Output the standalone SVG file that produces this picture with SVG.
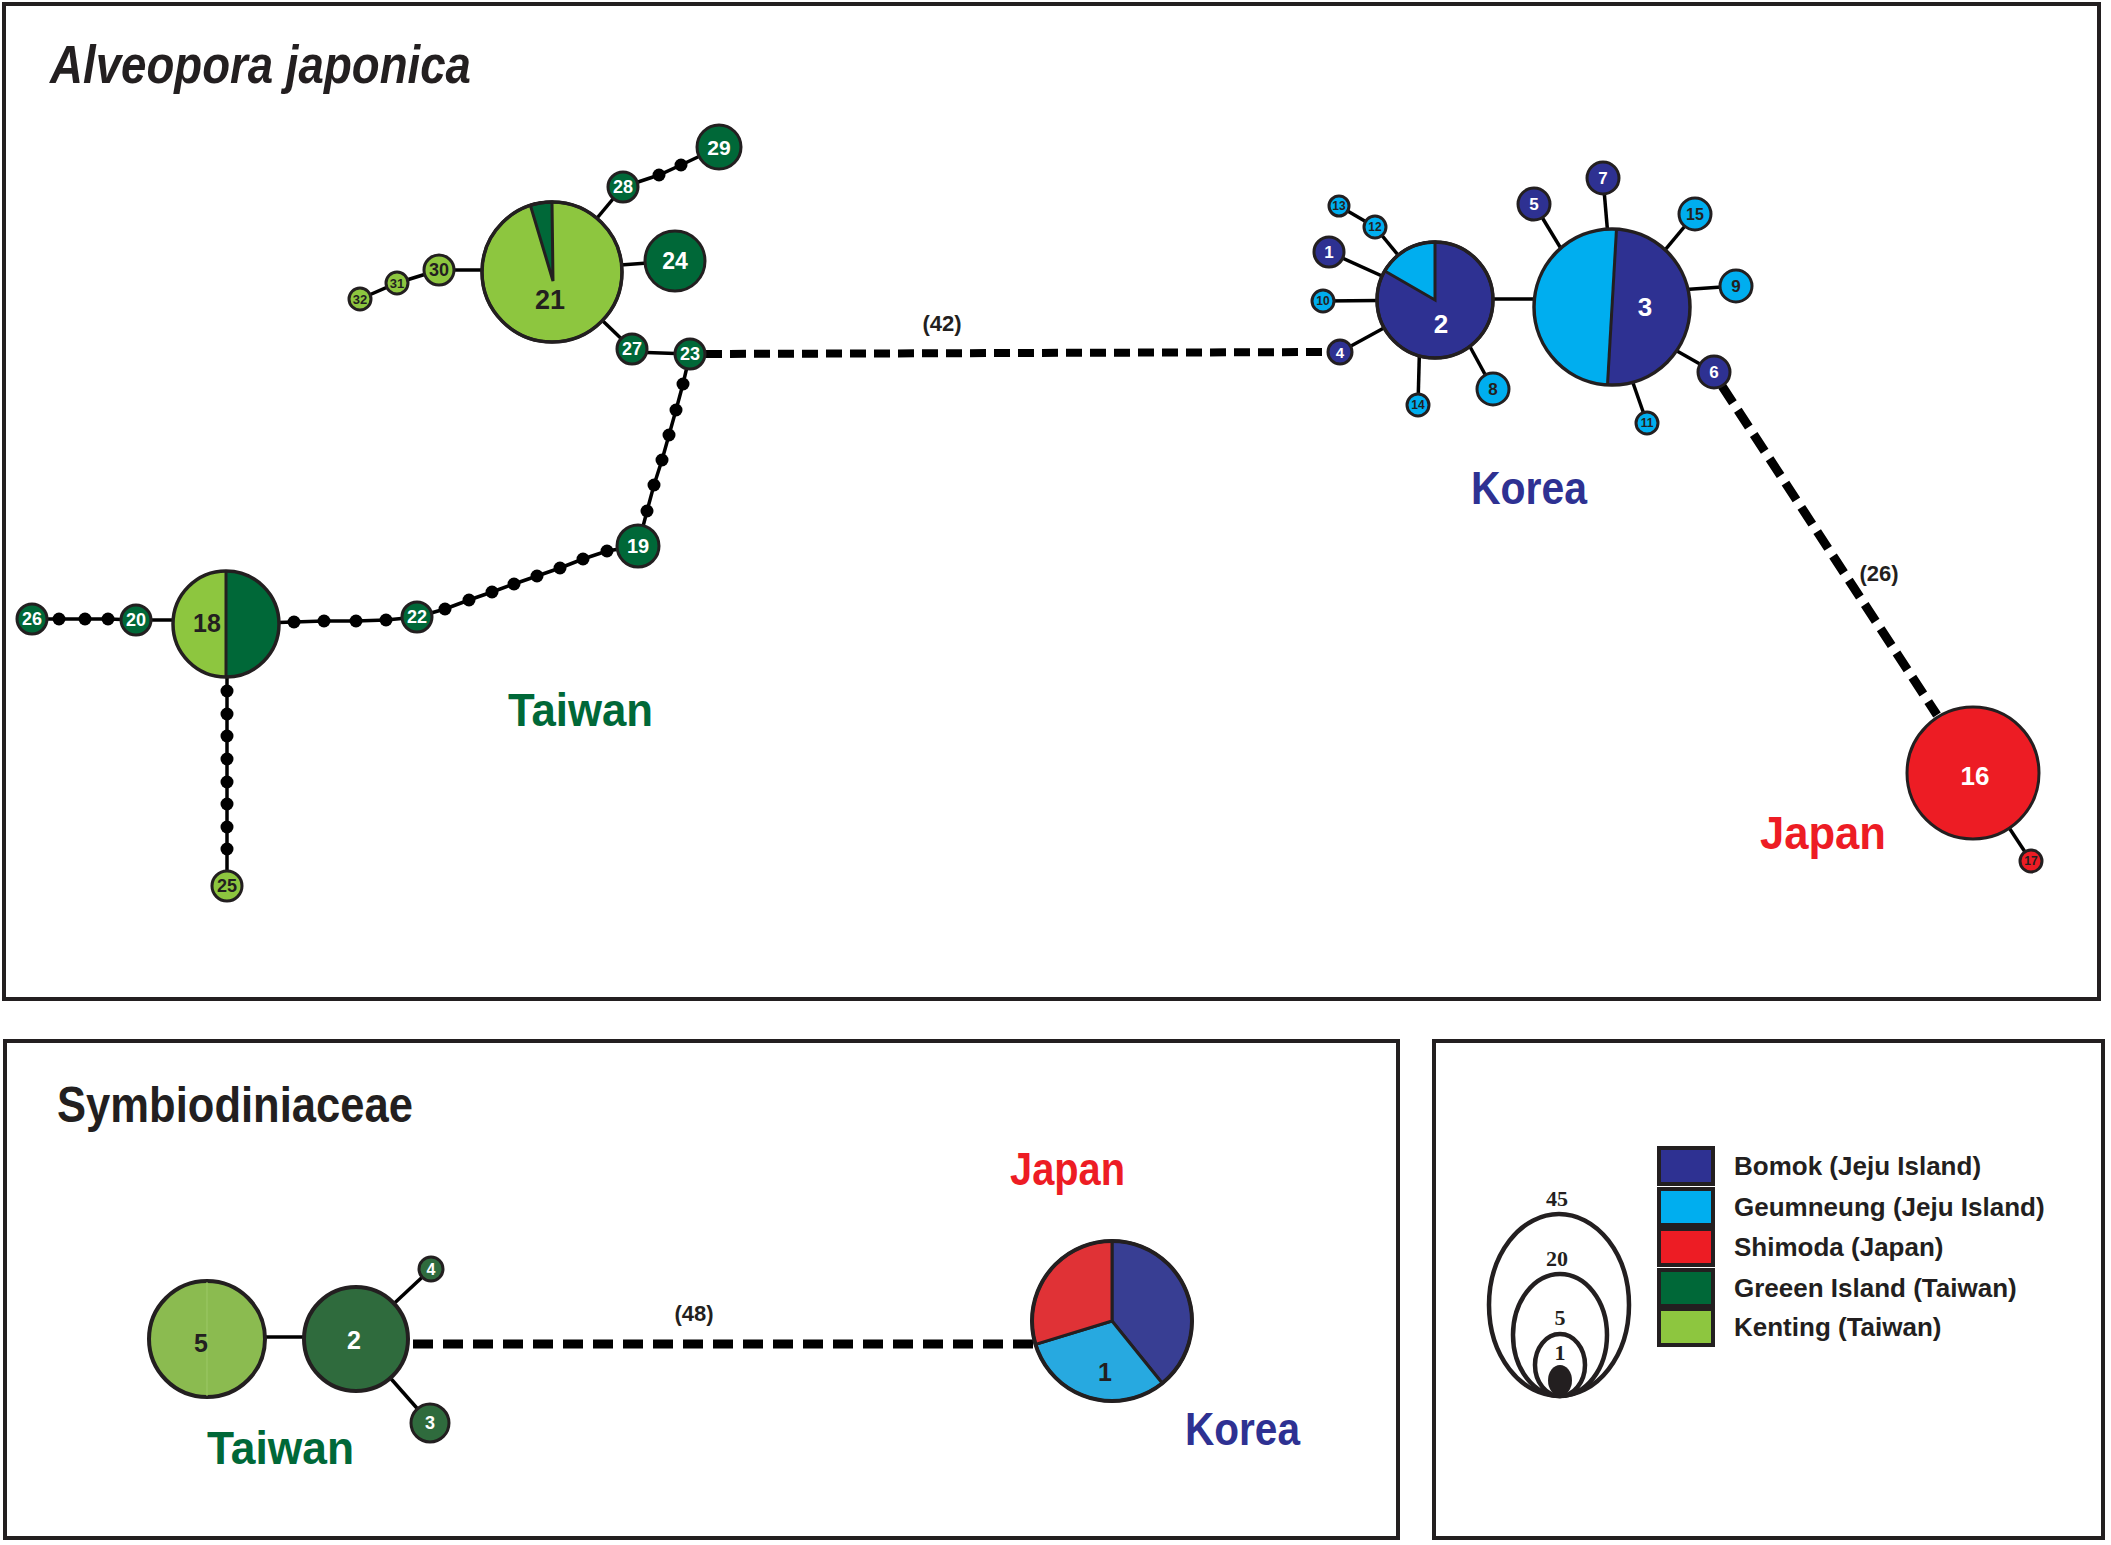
<svg xmlns="http://www.w3.org/2000/svg" width="2111" height="1545" viewBox="0 0 2111 1545">
<defs>
<style>
.frame{fill:none;stroke:#231f20;stroke-width:4}
.ln{fill:none;stroke:#000;stroke-width:3.5}
.dash42{fill:none;stroke:#000;stroke-width:8;stroke-dasharray:16 8}
.dash26{fill:none;stroke:#000;stroke-width:9;stroke-dasharray:20 9}
.dash48{fill:none;stroke:#000;stroke-width:9;stroke-dasharray:20 10}
.dot{fill:#000}
.nd{stroke:#231f20;stroke-width:3}
.ndo{fill:none;stroke:#231f20;stroke-width:3.5}
.B{fill:#2e3192}.G{fill:#00aeef}.S{fill:#ed1c24}.GI{fill:#006838}.K{fill:#8dc63f}
.t{font-family:"Liberation Sans",Arial,sans-serif;font-weight:bold;text-anchor:middle;dominant-baseline:central}
.w{fill:#fff}.d{fill:#231f20}
.title{font-family:"Liberation Sans",Arial,sans-serif;font-weight:bold;fill:#231f20}
.reg{font-family:"Liberation Sans",Arial,sans-serif;font-weight:bold;font-size:47px}
.lg{font-family:"Liberation Sans",Arial,sans-serif;font-weight:bold;font-size:26px;fill:#231f20}
.sz{font-family:"Liberation Serif","Times New Roman",serif;font-weight:bold;font-size:22px;fill:#231f20;text-anchor:middle}
.lc{fill:none;stroke:#231f20;stroke-width:4.5}
</style>
</defs>
<rect width="2111" height="1545" fill="#fff"/>

<!-- frames -->
<rect class="frame" x="4" y="4" width="2095" height="995"/>
<rect class="frame" x="5" y="1041" width="1393" height="497"/>
<rect class="frame" x="1434" y="1041" width="669" height="497"/>

<!-- titles -->
<text class="title" x="50" y="83" font-size="53" font-style="italic" textLength="421" lengthAdjust="spacingAndGlyphs">Alveopora japonica</text>
<text class="title" x="57" y="1122" font-size="50" textLength="356" lengthAdjust="spacingAndGlyphs">Symbiodiniaceae</text>

<!-- region labels -->
<text class="reg" x="508" y="726" fill="#006838" textLength="145" lengthAdjust="spacingAndGlyphs">Taiwan</text>
<text class="reg" x="1471" y="504" fill="#2e3192" textLength="116" lengthAdjust="spacingAndGlyphs">Korea</text>
<text class="reg" x="1760" y="849" fill="#ed1c24" textLength="126" lengthAdjust="spacingAndGlyphs">Japan</text>
<text class="reg" x="207" y="1464" fill="#006838" textLength="147" lengthAdjust="spacingAndGlyphs">Taiwan</text>
<text class="reg" x="1010" y="1185" fill="#ed1c24" textLength="115" lengthAdjust="spacingAndGlyphs">Japan</text>
<text class="reg" x="1185" y="1445" fill="#2e3192" textLength="115" lengthAdjust="spacingAndGlyphs">Korea</text>

<!-- connectors -->
<g id="connectors">
<line class="ln" x1="552" y1="270" x2="439" y2="270"/>
<polyline class="ln" points="439,270 397,283 360,299"/>
<line class="ln" x1="552" y1="272" x2="623" y2="187"/>
<polyline class="ln" points="623,187 659,175 681,165 719,147"/>
<line class="ln" x1="552" y1="270" x2="675" y2="261"/>
<line class="ln" x1="552" y1="272" x2="632" y2="349"/>
<line class="ln" x1="632" y1="352" x2="690" y2="354"/>
<polyline class="ln" points="690,354 683,384 676,410 669,435 662,460 654,485 647,511 638,546"/>
<polyline class="ln" points="638,546 607,551 583,559 560,568 537,576 514,584 492,592 469,600 445,609 417,617"/>
<polyline class="ln" points="417,617 386,620 356,621 324,621 294,622 226,624"/>
<line class="ln" x1="226" y1="620" x2="136" y2="620"/>
<polyline class="ln" points="136,620 108,619 85,619 59,619 32,619"/>
<line class="ln" x1="227" y1="624" x2="227" y2="886"/>
<line class="dash42" x1="706" y1="354" x2="1328" y2="352"/>
<line class="ln" x1="1339" y1="206" x2="1375" y2="227"/>
<line class="ln" x1="1375" y1="227" x2="1435" y2="300"/>
<line class="ln" x1="1329" y1="252" x2="1435" y2="300"/>
<line class="ln" x1="1323" y1="301" x2="1435" y2="300"/>
<line class="ln" x1="1340" y1="352" x2="1435" y2="300"/>
<line class="ln" x1="1418" y1="405" x2="1420" y2="330"/>
<line class="ln" x1="1493" y1="389" x2="1450" y2="310"/>
<line class="ln" x1="1435" y1="299" x2="1612" y2="299"/>
<line class="ln" x1="1534" y1="204" x2="1580" y2="280"/>
<line class="ln" x1="1603" y1="178" x2="1610" y2="260"/>
<line class="ln" x1="1695" y1="214" x2="1640" y2="280"/>
<line class="ln" x1="1736" y1="286" x2="1650" y2="292"/>
<line class="ln" x1="1714" y1="372" x2="1640" y2="330"/>
<line class="ln" x1="1647" y1="423" x2="1625" y2="360"/>
<line class="dash26" x1="1722" y1="386" x2="1937" y2="715"/>
<line class="ln" x1="1973" y1="773" x2="2031" y2="861"/>
<line class="ln" x1="207" y1="1337" x2="356" y2="1337"/>
<line class="ln" x1="356" y1="1339" x2="431" y2="1269"/>
<line class="ln" x1="356" y1="1339" x2="430" y2="1423"/>
<line class="dash48" x1="413" y1="1344" x2="1036" y2="1344"/>
</g>

<!-- mutation dots -->
<g id="dots">
<circle class="dot" cx="659" cy="175" r="6.5"/><circle class="dot" cx="681" cy="165" r="6.5"/>
<circle class="dot" cx="683" cy="384" r="6.5"/><circle class="dot" cx="676" cy="410" r="6.5"/><circle class="dot" cx="669" cy="435" r="6.5"/><circle class="dot" cx="662" cy="460" r="6.5"/><circle class="dot" cx="654" cy="485" r="6.5"/><circle class="dot" cx="647" cy="511" r="6.5"/>
<circle class="dot" cx="607" cy="551" r="6.5"/><circle class="dot" cx="583" cy="559" r="6.5"/><circle class="dot" cx="560" cy="568" r="6.5"/><circle class="dot" cx="537" cy="576" r="6.5"/><circle class="dot" cx="514" cy="584" r="6.5"/><circle class="dot" cx="492" cy="592" r="6.5"/><circle class="dot" cx="469" cy="600" r="6.5"/><circle class="dot" cx="445" cy="609" r="6.5"/>
<circle class="dot" cx="386" cy="620" r="6.5"/><circle class="dot" cx="356" cy="621" r="6.5"/><circle class="dot" cx="324" cy="621" r="6.5"/><circle class="dot" cx="294" cy="622" r="6.5"/>
<circle class="dot" cx="108" cy="619" r="6.5"/><circle class="dot" cx="85" cy="619" r="6.5"/><circle class="dot" cx="59" cy="619" r="6.5"/>
<circle class="dot" cx="227" cy="691" r="6.5"/><circle class="dot" cx="227" cy="714" r="6.5"/><circle class="dot" cx="227" cy="736" r="6.5"/><circle class="dot" cx="227" cy="759" r="6.5"/><circle class="dot" cx="227" cy="782" r="6.5"/><circle class="dot" cx="227" cy="804" r="6.5"/><circle class="dot" cx="227" cy="827" r="6.5"/><circle class="dot" cx="227" cy="849" r="6.5"/>
</g>

<!-- edge labels -->
<text class="t d" x="942" y="323" font-size="22">(42)</text>
<text class="t d" x="1879" y="573" font-size="22">(26)</text>
<text class="t d" x="694" y="1313" font-size="22">(48)</text>

<!-- Taiwan nodes (top) -->
<g id="n21"><circle class="nd K" cx="552" cy="272" r="70"/><path class="nd GI" d="M553,281 L552,202 A70,70 0 0,0 530.4,205.4 Z"/><circle class="ndo" cx="552" cy="272" r="70"/><text class="t d" x="550" y="300" font-size="27">21</text></g>
<g id="n24"><circle class="nd GI" cx="675" cy="261" r="30"/><text class="t w" x="675" y="261" font-size="23">24</text></g>
<g id="n28"><circle class="nd GI" cx="623" cy="187" r="15"/><text class="t w" x="623" y="187" font-size="18">28</text></g>
<g id="n29"><circle class="nd GI" cx="719" cy="147" r="22"/><text class="t w" x="719" y="147" font-size="21">29</text></g>
<g id="n30"><circle class="nd K" cx="439" cy="270" r="15"/><text class="t d" x="439" y="270" font-size="18">30</text></g>
<g id="n31"><circle class="nd K" cx="397" cy="283" r="11"/><text class="t d" x="397" y="283" font-size="13">31</text></g>
<g id="n32"><circle class="nd K" cx="360" cy="299" r="11"/><text class="t d" x="360" y="299" font-size="13">32</text></g>
<g id="n27"><circle class="nd GI" cx="632" cy="349" r="15"/><text class="t w" x="632" y="349" font-size="18">27</text></g>
<g id="n23"><circle class="nd GI" cx="690" cy="354" r="15"/><text class="t w" x="690" y="354" font-size="18">23</text></g>
<g id="n19"><circle class="nd GI" cx="638" cy="546" r="21"/><text class="t w" x="638" y="546" font-size="20">19</text></g>
<g id="n22"><circle class="nd GI" cx="417" cy="617" r="15"/><text class="t w" x="417" y="617" font-size="18">22</text></g>
<g id="n18"><path class="K" d="M226,571 A53,53 0 0,0 226,677 Z"/><path class="GI" d="M226,571 A53,53 0 0,1 226,677 Z"/><line x1="226" y1="571" x2="226" y2="677" stroke="#231f20" stroke-width="3"/><circle class="ndo" cx="226" cy="624" r="53"/><text class="t d" x="207" y="623" font-size="25">18</text></g>
<g id="n20"><circle class="nd GI" cx="136" cy="620" r="15"/><text class="t w" x="136" y="620" font-size="18">20</text></g>
<g id="n26"><circle class="nd GI" cx="32" cy="619" r="15"/><text class="t w" x="32" y="619" font-size="18">26</text></g>
<g id="n25"><circle class="nd K" cx="227" cy="886" r="15"/><text class="t d" x="227" y="886" font-size="18">25</text></g>

<!-- Korea nodes -->
<g id="n2"><circle class="nd B" cx="1435" cy="300" r="58"/><path class="nd G" d="M1435,300 L1435,242 A58,58 0 0,0 1384.8,271 Z"/><circle class="ndo" cx="1435" cy="300" r="58"/><text class="t w" x="1441" y="324" font-size="26">2</text></g>
<g id="n3"><circle class="B" cx="1612" cy="307" r="78"/><path class="G" d="M1616.5,229.1 A78,78 0 0,0 1534.1,302.5 A78,78 0 0,0 1607.5,384.9 Z"/><line x1="1616.5" y1="229.1" x2="1607.5" y2="384.9" stroke="#231f20" stroke-width="3"/><circle class="ndo" cx="1612" cy="307" r="78"/><text class="t w" x="1645" y="307" font-size="26">3</text></g>
<g id="n13"><circle class="nd G" cx="1339" cy="206" r="10"/><text class="t d" x="1339" y="206" font-size="12">13</text></g>
<g id="n12"><circle class="nd G" cx="1375" cy="227" r="11"/><text class="t d" x="1375" y="227" font-size="12">12</text></g>
<g id="n1"><circle class="nd B" cx="1329" cy="252" r="15"/><text class="t w" x="1329" y="252" font-size="17">1</text></g>
<g id="n10"><circle class="nd G" cx="1323" cy="301" r="11"/><text class="t d" x="1323" y="301" font-size="12">10</text></g>
<g id="n4"><circle class="nd B" cx="1340" cy="352" r="12"/><text class="t w" x="1340" y="352" font-size="15">4</text></g>
<g id="n14"><circle class="nd G" cx="1418" cy="405" r="11"/><text class="t d" x="1418" y="405" font-size="12">14</text></g>
<g id="n8"><circle class="nd G" cx="1493" cy="389" r="16"/><text class="t d" x="1493" y="389" font-size="17">8</text></g>
<g id="n5"><circle class="nd B" cx="1534" cy="204" r="16"/><text class="t w" x="1534" y="204" font-size="17">5</text></g>
<g id="n7"><circle class="nd B" cx="1603" cy="178" r="16"/><text class="t w" x="1603" y="178" font-size="17">7</text></g>
<g id="n15"><circle class="nd G" cx="1695" cy="214" r="16"/><text class="t d" x="1695" y="214" font-size="16">15</text></g>
<g id="n9"><circle class="nd G" cx="1736" cy="286" r="16"/><text class="t d" x="1736" y="286" font-size="17">9</text></g>
<g id="n6"><circle class="nd B" cx="1714" cy="372" r="16"/><text class="t w" x="1714" y="372" font-size="17">6</text></g>
<g id="n11"><circle class="nd G" cx="1647" cy="423" r="11"/><text class="t d" x="1647" y="423" font-size="12">11</text></g>

<!-- Japan nodes -->
<g id="n16"><circle class="nd S" cx="1973" cy="773" r="66"/><text class="t w" x="1975" y="776" font-size="26">16</text></g>
<g id="n17"><circle class="nd S" cx="2031" cy="861" r="11"/><text class="t d" x="2031" y="861" font-size="12">17</text></g>

<!-- Symbiodiniaceae nodes -->
<g id="s5"><circle cx="207" cy="1339" r="58" fill="#8bbb50" stroke="#231f20" stroke-width="4"/><line x1="207" y1="1282" x2="207" y2="1396" stroke="#9cc866" stroke-width="1"/><text class="t d" x="201" y="1343" font-size="25">5</text></g>
<g id="s2"><circle cx="356" cy="1339" r="52" fill="#2f6b3d" stroke="#231f20" stroke-width="4"/><text class="t w" x="354" y="1340" font-size="25">2</text></g>
<g id="s4"><circle cx="431" cy="1269" r="12" fill="#2f6b3d" stroke="#231f20" stroke-width="3"/><text class="t w" x="431" y="1269" font-size="16">4</text></g>
<g id="s3"><circle cx="430" cy="1423" r="19" fill="#2f6b3d" stroke="#231f20" stroke-width="3"/><text class="t w" x="430" y="1423" font-size="18">3</text></g>
<g id="s1">
<path d="M1112,1321 L1112,1241 A80,80 0 0,1 1162.3,1383.2 Z" fill="#383e93" stroke="#231f20" stroke-width="3"/>
<path d="M1112,1321 L1162.3,1383.2 A80,80 0 0,1 1035.5,1344.4 Z" fill="#27a9e0" stroke="#231f20" stroke-width="3"/>
<path d="M1112,1321 L1035.5,1344.4 A80,80 0 0,1 1112,1241 Z" fill="#e03236" stroke="#231f20" stroke-width="3"/>
<circle cx="1112" cy="1321" r="80" fill="none" stroke="#231f20" stroke-width="4"/>
<text class="t d" x="1105" y="1372" font-size="25">1</text>
</g>

<!-- legend -->
<g id="legend">
<ellipse class="lc" cx="1559" cy="1305" rx="70" ry="91"/>
<ellipse class="lc" cx="1560" cy="1335" rx="47" ry="61"/>
<ellipse class="lc" cx="1560" cy="1365" rx="25" ry="31"/>
<ellipse cx="1560" cy="1380.5" rx="12" ry="15.5" fill="#231f20"/>
<text class="sz" x="1557" y="1206">45</text>
<text class="sz" x="1557" y="1266">20</text>
<text class="sz" x="1560" y="1325">5</text>
<text class="sz" x="1560" y="1360">1</text>
<rect x="1659" y="1148" width="54" height="36" fill="#2e3192" stroke="#231f20" stroke-width="4"/>
<rect x="1659" y="1189" width="54" height="36" fill="#00aeef" stroke="#231f20" stroke-width="4"/>
<rect x="1659" y="1229" width="54" height="36" fill="#ed1c24" stroke="#231f20" stroke-width="4"/>
<rect x="1659" y="1270" width="54" height="36" fill="#006838" stroke="#231f20" stroke-width="4"/>
<rect x="1659" y="1309" width="54" height="36" fill="#8dc63f" stroke="#231f20" stroke-width="4"/>
<text class="lg" x="1734" y="1175">Bomok (Jeju Island)</text>
<text class="lg" x="1734" y="1216">Geumneung (Jeju Island)</text>
<text class="lg" x="1734" y="1256">Shimoda (Japan)</text>
<text class="lg" x="1734" y="1297">Greeen Island (Taiwan)</text>
<text class="lg" x="1734" y="1336">Kenting (Taiwan)</text>
</g>
</svg>
